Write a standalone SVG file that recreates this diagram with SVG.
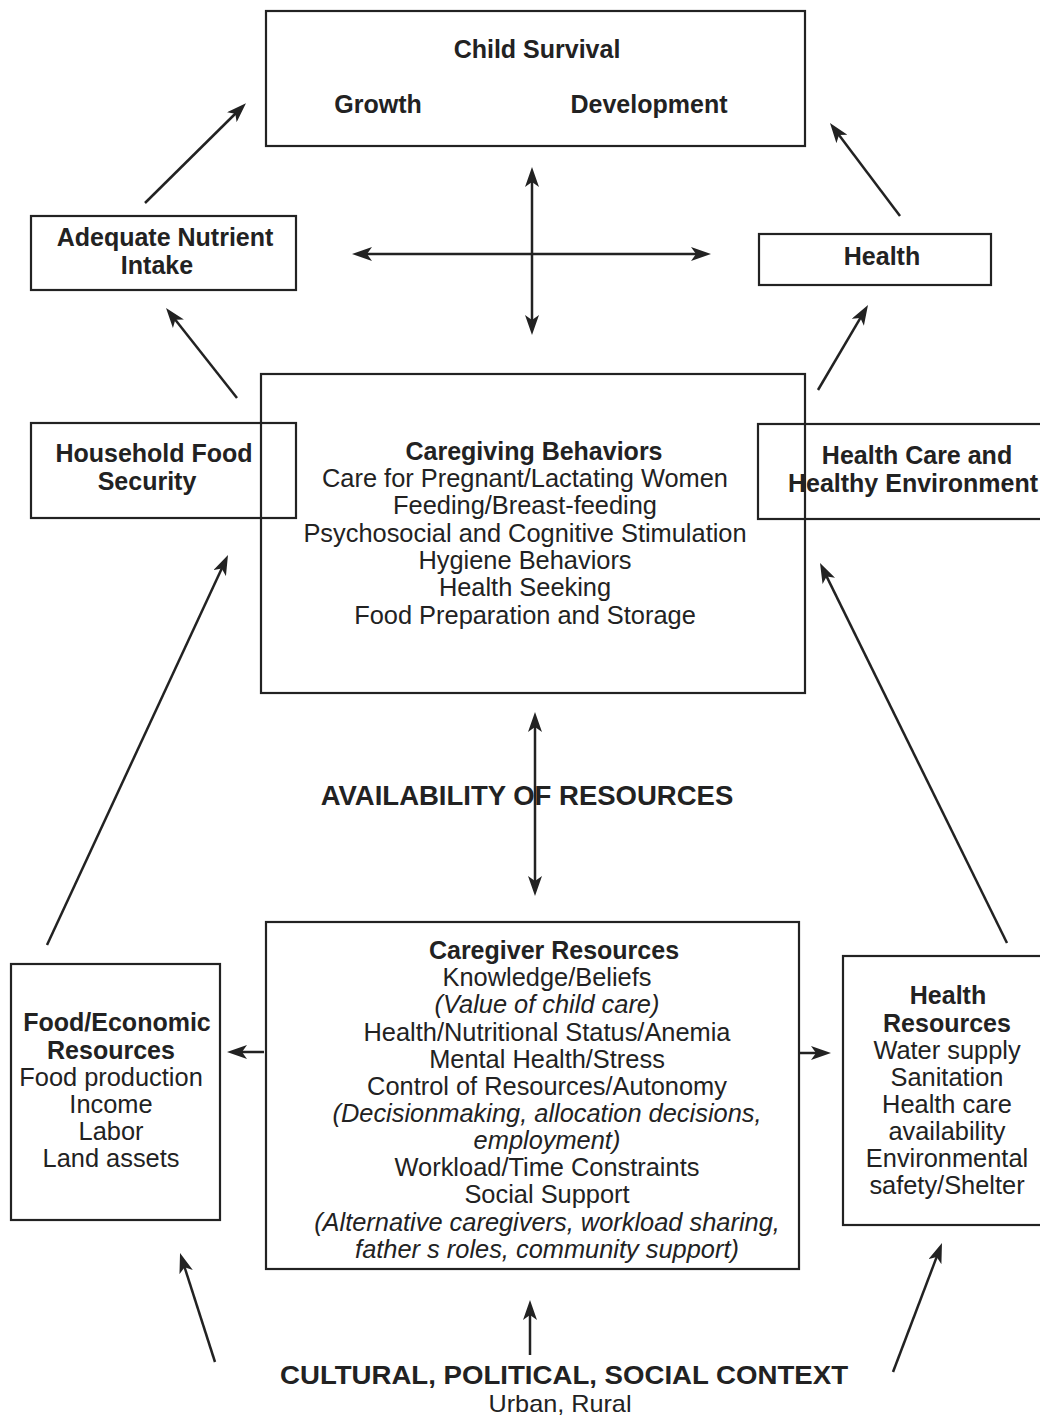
<svg xmlns="http://www.w3.org/2000/svg" width="1040" height="1415" viewBox="0 0 1040 1415">
<style>
.box{fill:none;stroke:#222;stroke-width:2.2}
.t{font-family:"Liberation Sans",Arial,sans-serif;font-size:25.4px;fill:#222;text-anchor:middle}
.b{font-weight:bold;font-size:25px}
.i{font-style:italic}
.c{stroke:#222;stroke-width:2.5;fill:none;marker-end:url(#ah)}
.d{marker-start:url(#ah)}
</style>
<defs>
<marker id="ah" viewBox="0 0 20 14" markerWidth="20" markerHeight="14" refX="6" refY="7" orient="auto-start-reverse" markerUnits="userSpaceOnUse">
<path d="M0,0 L20,7 L0,14 L5,7 z" fill="#222"/>
</marker>
</defs>
<rect width="1040" height="1415" fill="#fff"/>

<g id="child-survival">
<rect class="box" x="266" y="11" width="539" height="135"/>
<text class="t b" x="537" y="58">Child Survival</text>
<text class="t b" x="378" y="113">Growth</text>
<text class="t b" x="649" y="113">Development</text>
</g>

<g id="nutrient-intake">
<rect class="box" x="31" y="216" width="265" height="74"/>
<text class="t b" x="165" y="246">Adequate Nutrient</text>
<text class="t b" x="157" y="274">Intake</text>
</g>

<g id="health">
<rect class="box" x="759" y="234" width="232" height="51"/>
<text class="t b" x="882" y="265">Health</text>
</g>

<g id="household-food-security">
<rect class="box" x="31" y="423" width="265" height="95"/>
<text class="t b" x="154" y="462">Household Food</text>
<text class="t b" x="147" y="490">Security</text>
</g>

<g id="caregiving-behaviors">
<rect class="box" x="261" y="374" width="544" height="319"/>
<text class="t b" x="534" y="460">Caregiving Behaviors</text>
<text class="t" x="525" y="487">Care for Pregnant/Lactating Women</text>
<text class="t" x="525" y="514">Feeding/Breast-feeding</text>
<text class="t" x="525" y="542">Psychosocial and Cognitive Stimulation</text>
<text class="t" x="525" y="569">Hygiene Behaviors</text>
<text class="t" x="525" y="596">Health Seeking</text>
<text class="t" x="525" y="624">Food Preparation and Storage</text>
</g>

<g id="health-care-environment">
<rect class="box" x="758" y="424" width="300" height="95"/>
<text class="t b" x="917" y="464">Health Care and</text>
<text class="t b" x="913" y="492">Healthy Environment</text>
</g>

<g id="availability">
<text class="t b" x="527" y="805" style="font-size:27.5px">AVAILABILITY OF RESOURCES</text>
</g>

<g id="caregiver-resources">
<rect class="box" x="266" y="922" width="533" height="347"/>
<text class="t b" x="554" y="959">Caregiver Resources</text>
<text class="t" x="547" y="986">Knowledge/Beliefs</text>
<text class="t i" x="547" y="1013">(Value of child care)</text>
<text class="t" x="547" y="1041">Health/Nutritional Status/Anemia</text>
<text class="t" x="547" y="1068">Mental Health/Stress</text>
<text class="t" x="547" y="1095">Control of Resources/Autonomy</text>
<text class="t i" x="547" y="1122">(Decisionmaking, allocation decisions,</text>
<text class="t i" x="547" y="1149">employment)</text>
<text class="t" x="547" y="1176">Workload/Time Constraints</text>
<text class="t" x="547" y="1203">Social Support</text>
<text class="t i" x="547" y="1231">(Alternative caregivers, workload sharing,</text>
<text class="t i" x="547" y="1258">father s roles, community support)</text>
</g>

<g id="food-economic-resources">
<rect class="box" x="11" y="964" width="209" height="256"/>
<text class="t b" x="117" y="1031">Food/Economic</text>
<text class="t b" x="111" y="1059">Resources</text>
<text class="t" x="111" y="1086">Food production</text>
<text class="t" x="111" y="1113">Income</text>
<text class="t" x="111" y="1140">Labor</text>
<text class="t" x="111" y="1167">Land assets</text>
</g>

<g id="health-resources">
<rect class="box" x="843" y="956" width="210" height="269"/>
<text class="t b" x="948" y="1004">Health</text>
<text class="t b" x="947" y="1032">Resources</text>
<text class="t" x="947" y="1059">Water supply</text>
<text class="t" x="947" y="1086">Sanitation</text>
<text class="t" x="947" y="1113">Health care</text>
<text class="t" x="947" y="1140">availability</text>
<text class="t" x="947" y="1167">Environmental</text>
<text class="t" x="947" y="1194">safety/Shelter</text>
</g>

<g id="context">
<text class="t b" x="564" y="1384" style="font-size:26px" textLength="568" lengthAdjust="spacingAndGlyphs">CULTURAL, POLITICAL, SOCIAL CONTEXT</text>
<text class="t" x="560" y="1412" style="font-size:24px" textLength="143" lengthAdjust="spacingAndGlyphs">Urban, Rural</text>
</g>

<g id="connectors">
<line class="c" x1="145" y1="203" x2="236" y2="113"/>
<line class="c" x1="900" y1="216" x2="838.4" y2="134.2"/>
<line class="c d" x1="366" y1="254" x2="697" y2="254"/>
<line class="c d" x1="532" y1="181" x2="532" y2="321"/>
<line class="c" x1="237" y1="398" x2="174.7" y2="319"/>
<line class="c" x1="818" y1="390" x2="860.9" y2="317.1"/>
<line class="c d" x1="535" y1="726" x2="535" y2="882"/>
<line class="c" x1="47" y1="945" x2="222.1" y2="567.7"/>
<line class="c" x1="1007" y1="943" x2="826.2" y2="575.6"/>
<line class="c" x1="264" y1="1052" x2="241" y2="1052"/>
<line class="c" x1="800" y1="1053" x2="817" y2="1053"/>
<line class="c" x1="215" y1="1362" x2="184.3" y2="1266.3"/>
<line class="c" x1="530" y1="1355" x2="530" y2="1314"/>
<line class="c" x1="893" y1="1372" x2="937" y2="1256.1"/>
</g>
</svg>
